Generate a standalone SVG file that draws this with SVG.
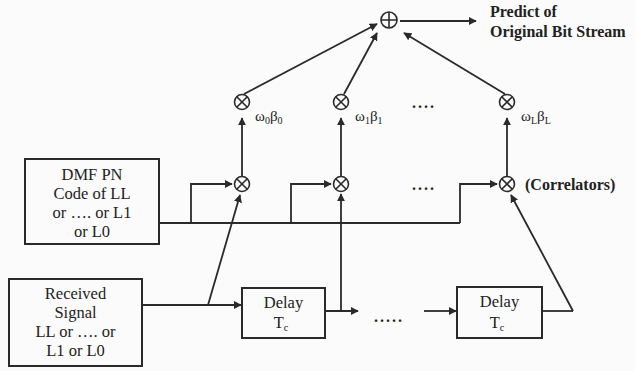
<svg xmlns="http://www.w3.org/2000/svg" width="635" height="371" viewBox="0 0 635 371">
<style>
text{font-family:"Liberation Serif","Times New Roman",serif;fill:#222;}
.t{font-size:16.5px;text-anchor:middle;}
.tl{font-size:16px;font-weight:bold;}
.w{font-size:15px;}
.sub{font-size:10px;}
.box{fill:none;stroke:#2a2a2a;stroke-width:2;}
.op{fill:none;stroke:#2a2a2a;stroke-width:1.6;}
.ln{fill:none;stroke:#2a2a2a;stroke-width:1.8;}
.ar{fill:none;stroke:#2a2a2a;stroke-width:1.8;marker-end:url(#ah);}
.dots{font-size:16px;font-weight:bold;letter-spacing:2px;}
</style>
<defs>
<marker id="ah" viewBox="0 0 10 10" refX="9" refY="5" markerWidth="4.5" markerHeight="4.5" orient="auto" markerUnits="strokeWidth">
<path d="M0,0 L10,5 L0,10 z" fill="#2a2a2a"/>
</marker>
</defs>
<rect width="635" height="371" fill="#fbfbfb"/>

<g id="sum">
<circle class="op" cx="389" cy="20" r="8"/>
<path class="op" d="M381,20 H397 M389,12 V28"/>
</g>
<g id="output-label">
<text class="tl" x="490" y="17">Predict of</text>
<text class="tl" x="490" y="37">Original Bit Stream</text>
</g>

<g id="mult0">
<circle class="op" cx="242" cy="102" r="7.5"/>
<path class="op" d="M236.7,96.7 L247.3,107.3 M247.3,96.7 L236.7,107.3"/>
</g>
<g id="mult1">
<circle class="op" cx="341" cy="102" r="7.5"/>
<path class="op" d="M335.7,96.7 L346.3,107.3 M346.3,96.7 L335.7,107.3"/>
</g>
<g id="multL">
<circle class="op" cx="507" cy="102" r="7.5"/>
<path class="op" d="M501.7,96.7 L512.3,107.3 M512.3,96.7 L501.7,107.3"/>
</g>

<g id="weights">
<text class="w" x="255" y="121">ω<tspan class="sub" dy="3">0</tspan><tspan dy="-3">β</tspan><tspan class="sub" dy="3">0</tspan></text>
<text class="w" x="355" y="121">ω<tspan class="sub" dy="3">1</tspan><tspan dy="-3">β</tspan><tspan class="sub" dy="3">1</tspan></text>
<text class="w" x="521" y="121">ω<tspan class="sub" dy="3">L</tspan><tspan dy="-3">β</tspan><tspan class="sub" dy="3">L</tspan></text>
<text class="dots" x="412" y="108">....</text>
</g>

<g id="corr0">
<circle class="op" cx="242" cy="184" r="7.5"/>
<path class="op" d="M236.7,178.7 L247.3,189.3 M247.3,178.7 L236.7,189.3"/>
</g>
<g id="corr1">
<circle class="op" cx="341" cy="184" r="7.5"/>
<path class="op" d="M335.7,178.7 L346.3,189.3 M346.3,178.7 L335.7,189.3"/>
</g>
<g id="corrL">
<circle class="op" cx="507" cy="184" r="7.5"/>
<path class="op" d="M501.7,178.7 L512.3,189.3 M512.3,178.7 L501.7,189.3"/>
</g>
<g id="corr-label">
<text class="tl" x="525" y="190">(Correlators)</text>
<text class="dots" x="412" y="190">....</text>
</g>

<g id="dmf">
<rect class="box" x="25" y="159" width="134" height="85"/>
<text class="t" x="92" y="180">DMF PN</text>
<text class="t" x="92" y="199">Code of LL</text>
<text class="t" x="92" y="218">or …. or L1</text>
<text class="t" x="92" y="237">or L0</text>
</g>

<g id="received">
<rect class="box" x="9" y="279" width="133" height="87"/>
<text class="t" x="75.5" y="299">Received</text>
<text class="t" x="75.5" y="318">Signal</text>
<text class="t" x="75.5" y="337">LL or …. or</text>
<text class="t" x="75.5" y="356">L1 or L0</text>
</g>

<g id="delay1">
<rect class="box" x="242" y="288" width="83" height="50"/>
<text class="t" x="283.5" y="308">Delay</text>
<text class="t" x="281" y="328">T<tspan class="sub" dy="3">c</tspan></text>
</g>
<g id="delay2">
<rect class="box" x="457" y="287" width="85" height="51"/>
<text class="t" x="499.5" y="307">Delay</text>
<text class="t" x="497" y="328">T<tspan class="sub" dy="3">c</tspan></text>
</g>
<text class="dots" x="374" y="322">.....</text>

<g id="connectors">
<path class="ar" d="M400,21 H476"/>
<path class="ar" d="M244,94 L377,24"/>
<path class="ar" d="M344,94 L377,33"/>
<path class="ar" d="M505,94 L404,33"/>
<path class="ar" d="M242,176 V118"/>
<path class="ar" d="M341,176 V118"/>
<path class="ar" d="M507,176 V118"/>
<path class="ln" d="M159,223 H460"/>
<path class="ar" d="M191,223 V184 H232"/>
<path class="ar" d="M291,223 V184 H331"/>
<path class="ar" d="M460,223 V184 H497"/>
<path class="ar" d="M142,305 H241"/>
<path class="ar" d="M208,305 L240,195"/>
<path class="ar" d="M325,311 H358"/>
<path class="ar" d="M341,311 V194"/>
<path class="ar" d="M424,311 H456"/>
<path class="ln" d="M542,311 H573"/>
<path class="ar" d="M573,311 L511,195"/>
</g>
</svg>
